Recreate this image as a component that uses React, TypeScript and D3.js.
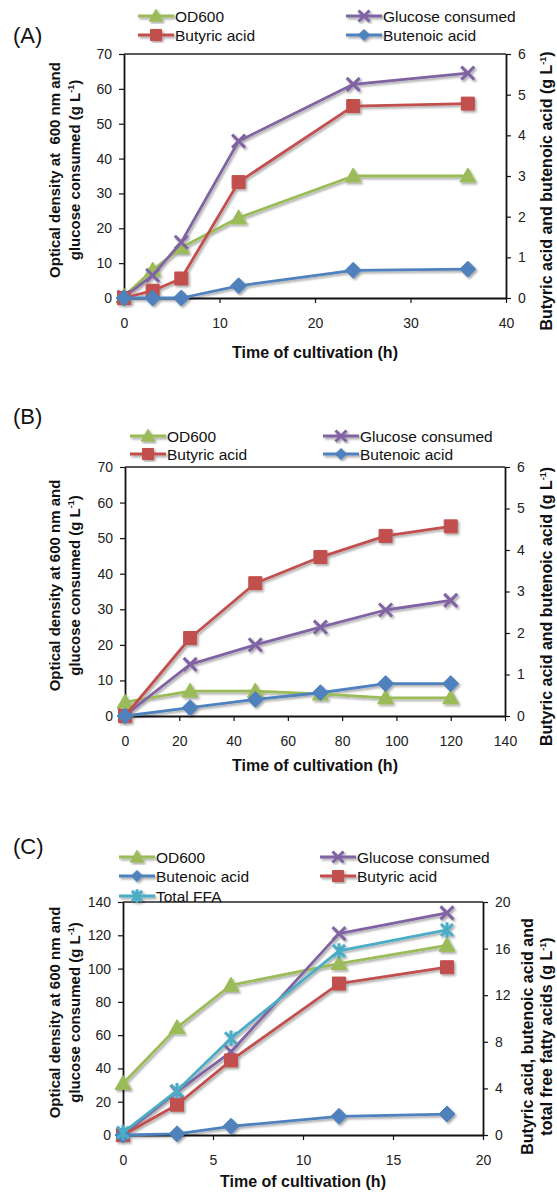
import { useEffect, useRef } from 'react';
import * as d3 from 'd3';

// ---- Panel A ----
const timeA = [0, 3, 6, 12, 24, 36];
const od600A = [0.5, 8, 14.5, 23, 35, 35];
const glucoseA = [0.3, 6.5, 16, 45, 61.3, 64.5];
const butyricA = [0, 0.18, 0.48, 2.85, 4.72, 4.78];
const butenoicA = [0, 0, 0, 0.3, 0.68, 0.71];
const xTicksA = [0, 10, 20, 30, 40];
const leftTicksA = [0, 10, 20, 30, 40, 50, 60, 70];
const rightTicksA = [0, 1, 2, 3, 4, 5, 6];

// ---- Panel B ----
const timeB = [0, 24, 48, 72, 96, 120];
const od600B = [3.9, 7, 7, 6.2, 5.1, 5.1];
const glucoseB = [0.2, 14.5, 20, 25, 29.8, 32.5];
const butyricB = [0, 1.88, 3.2, 3.83, 4.34, 4.57];
const butenoicB = [0, 0.2, 0.4, 0.56, 0.78, 0.78];
const xTicksB = [0, 20, 40, 60, 80, 100, 120, 140];
const leftTicksB = [0, 10, 20, 30, 40, 50, 60, 70];
const rightTicksB = [0, 1, 2, 3, 4, 5, 6];

// ---- Panel C ----
const timeC = [0, 3, 6, 12, 18];
const od600C = [31, 64.5, 90, 103, 114];
const glucoseC = [0, 26, 50, 121, 133.5];
const butenoicC = [0, 0.1, 0.75, 1.6, 1.8];
const butyricC = [0, 2.6, 6.4, 13, 14.4];
const totalFfaC = [0.2, 3.8, 8.3, 15.8, 17.6];
const xTicksC = [0, 5, 10, 15, 20];
const leftTicksC = [0, 20, 40, 60, 80, 100, 120, 140];
const rightTicksC = [0, 4, 8, 12, 16, 20];

const FONT = '"Liberation Sans", Arial, Helvetica, sans-serif';

const colors = {
  od: '#9BBB59',
  glucose: '#8064A2',
  butyric: '#C0504D',
  butenoic: '#4F81BD',
  ffa: '#4BACC6',
};

type Marker = 'triangle' | 'square' | 'diamond' | 'x' | 'star';

interface Series {
  name: string;
  values: number[];
  axis: 'left' | 'right';
  color: string;
  marker: Marker;
}

interface LegendEntry {
  name: string;
  color: string;
  marker: Marker;
  x: number;
  y: number;
}

interface Panel {
  tag: string;
  tagY: number;
  time: number[];
  xTicks: number[];
  leftTicks: number[];
  rightTicks: number[];
  box: { l: number; r: number; t: number; b: number };
  series: Series[];
  legend: LegendEntry[];
  leftTitle: string[];
  rightTitle: string[];
  rightTitleX: number;
  rightTitleShift: number;
  xTitleY: number;
}

const od = (values: number[]): Series => ({ name: 'OD600', values, axis: 'left', color: colors.od, marker: 'triangle' });
const glu = (values: number[]): Series => ({ name: 'Glucose consumed', values, axis: 'left', color: colors.glucose, marker: 'x' });
const buty = (values: number[]): Series => ({ name: 'Butyric acid', values, axis: 'right', color: colors.butyric, marker: 'square' });
const bute = (values: number[]): Series => ({ name: 'Butenoic acid', values, axis: 'right', color: colors.butenoic, marker: 'diamond' });
const ffa = (values: number[]): Series => ({ name: 'Total FFA', values, axis: 'right', color: colors.ffa, marker: 'star' });

const panels: Panel[] = [
  {
    tag: '(A)', tagY: 43, time: timeA,
    xTicks: xTicksA, leftTicks: leftTicksA, rightTicks: rightTicksA,
    box: { l: 124, r: 506, t: 54, b: 298 },
    series: [od(od600A), glu(glucoseA), buty(butyricA), bute(butenoicA)],
    legend: [
      { name: 'OD600', color: colors.od, marker: 'triangle', x: 138, y: 16 },
      { name: 'Glucose consumed', color: colors.glucose, marker: 'x', x: 346, y: 16 },
      { name: 'Butyric acid', color: colors.butyric, marker: 'square', x: 138, y: 35 },
      { name: 'Butenoic acid', color: colors.butenoic, marker: 'diamond', x: 346, y: 35 },
    ],
    leftTitle: ['Optical density at  600 nm and', 'glucose consumed (g L-1)'],
    rightTitle: ['Butyric acid and butenoic acid (g L-1)'],
    rightTitleX: 552, rightTitleShift: 15,
    xTitleY: 358,
  },
  {
    tag: '(B)', tagY: 424, time: timeB,
    xTicks: xTicksB, leftTicks: leftTicksB, rightTicks: rightTicksB,
    box: { l: 125, r: 505, t: 467, b: 716 },
    series: [od(od600B), glu(glucoseB), buty(butyricB), bute(butenoicB)],
    legend: [
      { name: 'OD600', color: colors.od, marker: 'triangle', x: 130, y: 436 },
      { name: 'Glucose consumed', color: colors.glucose, marker: 'x', x: 323, y: 436 },
      { name: 'Butyric acid', color: colors.butyric, marker: 'square', x: 130, y: 454 },
      { name: 'Butenoic acid', color: colors.butenoic, marker: 'diamond', x: 323, y: 454 },
    ],
    leftTitle: ['Optical density at 600 nm and', 'glucose consumed (g L-1)'],
    rightTitle: ['Butyric acid and butenoic acid (g L-1)'],
    rightTitleX: 552, rightTitleShift: 15,
    xTitleY: 771,
  },
  {
    tag: '(C)', tagY: 854, time: timeC,
    xTicks: xTicksC, leftTicks: leftTicksC, rightTicks: rightTicksC,
    box: { l: 123, r: 483, t: 902, b: 1135 },
    series: [od(od600C), glu(glucoseC), buty(butyricC), bute(butenoicC), ffa(totalFfaC)],
    legend: [
      { name: 'OD600', color: colors.od, marker: 'triangle', x: 119, y: 857 },
      { name: 'Glucose consumed', color: colors.glucose, marker: 'x', x: 320, y: 857 },
      { name: 'Butenoic acid', color: colors.butenoic, marker: 'diamond', x: 119, y: 876 },
      { name: 'Butyric acid', color: colors.butyric, marker: 'square', x: 320, y: 876 },
      { name: 'Total FFA', color: colors.ffa, marker: 'star', x: 119, y: 896 },
    ],
    leftTitle: ['Optical density at 600 nm and', 'glucose consumed (g L-1)'],
    rightTitle: ['Butyric acid, butenoic acid and', 'total free fatty acids (g L-1)'],
    rightTitleX: 533, rightTitleShift: 18,
    xTitleY: 1187,
  },
];

// marker outline, centred on 0,0
const markerPath = (kind: Marker, k = 1): string => {
  switch (kind) {
    case 'triangle': {
      const w = 8 * k, up = 8 * k, dn = 6 * k;
      return `M0,${-up}L${w},${dn}L${-w},${dn}Z`;
    }
    case 'square': {
      const h = 6.5 * k;
      return `M${-h},${-h}H${h}V${h}H${-h}Z`;
    }
    case 'diamond': {
      const h = 8 * k;
      return `M0,${-h}L${h},0L0,${h}L${-h},0Z`;
    }
    case 'x': {
      const h = 6.5 * k;
      return `M${-h},${-h}L${h},${h}M${h},${-h}L${-h},${h}`;
    }
    case 'star': {
      const h = 6 * k;
      return `M${-h},${-h}L${h},${h}M${h},${-h}L${-h},${h}M0,${-h * 1.3}V${h * 1.3}`;
    }
  }
};

const drawMarker = (g: d3.Selection<SVGGElement, unknown, null, undefined>, kind: Marker, color: string, x: number, y: number, k = 1) => {
  const stroked = kind === 'x' || kind === 'star';
  g.append('path')
    .attr('d', markerPath(kind, k))
    .attr('transform', `translate(${x},${y})`)
    .attr('fill', stroked ? 'none' : color)
    .attr('stroke', color)
    .attr('stroke-width', stroked ? 3 : 1)
    .attr('stroke-linejoin', 'round');
};

// text with a superscript "-1" in the unit
const writeUnit = (t: d3.Selection<SVGTextElement, unknown, null, undefined>, str: string) => {
  const i = str.indexOf('-1');
  if (i < 0) { t.text(str); return; }
  t.append('tspan').text(str.slice(0, i));
  t.append('tspan').attr('dy', -6).attr('font-size', 9).text('-1');
  t.append('tspan').attr('dy', 6).text(str.slice(i + 2));
};

const App = () => {
  const ref = useRef<SVGSVGElement>(null);

  useEffect(() => {
    if (!ref.current) return;
    const svg = d3.select(ref.current);
    svg.selectAll('*').remove();

    const defs = svg.append('defs');
    defs.append('filter')
      .attr('id', 'shadow')
      .attr('x', '-20%').attr('y', '-20%').attr('width', '140%').attr('height', '140%')
      .append('feDropShadow')
      .attr('dx', 1.6).attr('dy', 1.8).attr('stdDeviation', 1.2)
      .attr('flood-color', '#000').attr('flood-opacity', 0.35);

    const fmt = d3.format('d');

    panels.forEach(p => {
      const { l, r, t, b } = p.box;
      const x = d3.scaleLinear().domain([0, p.xTicks[p.xTicks.length - 1]]).range([l, r]);
      const yL = d3.scaleLinear().domain([0, p.leftTicks[p.leftTicks.length - 1]]).range([b, t]);
      const yR = d3.scaleLinear().domain([0, p.rightTicks[p.rightTicks.length - 1]]).range([b, t]);

      const root = svg.append('g').attr('font-family', FONT);

      // panel tag
      root.append('text')
        .attr('x', 13).attr('y', p.tagY)
        .attr('font-size', 22)
        .attr('fill', '#111')
        .text(p.tag);

      // top frame line
      root.append('line')
        .attr('x1', l).attr('x2', r).attr('y1', t).attr('y2', t)
        .attr('stroke', '#222').attr('stroke-width', 1.3);

      const styleAxis = (g: d3.Selection<SVGGElement, unknown, null, undefined>) => {
        g.attr('font-size', 14).attr('font-family', FONT);
        g.select('.domain').attr('stroke', '#111').attr('stroke-width', 1.8);
        g.selectAll('.tick line').attr('stroke', '#111').attr('stroke-width', 1.2);
        g.selectAll('.tick text').attr('fill', '#222');
      };

      root.append('g')
        .attr('transform', `translate(0,${b})`)
        .call(d3.axisBottom(x).tickValues(p.xTicks).tickFormat(fmt).tickSize(5).tickSizeOuter(0).tickPadding(15))
        .call(styleAxis);
      root.append('g')
        .attr('transform', `translate(${l},0)`)
        .call(d3.axisLeft(yL).tickValues(p.leftTicks).tickFormat(fmt).tickSize(5).tickSizeOuter(0).tickPadding(7))
        .call(styleAxis);
      root.append('g')
        .attr('transform', `translate(${r},0)`)
        .call(d3.axisRight(yR).tickValues(p.rightTicks).tickFormat(fmt).tickSize(5).tickSizeOuter(0).tickPadding(7))
        .call(styleAxis);

      // x title
      root.append('text')
        .attr('x', (l + r) / 2).attr('y', p.xTitleY)
        .attr('text-anchor', 'middle')
        .attr('font-size', 16).attr('font-weight', 'bold').attr('fill', '#111')
        .text('Time of cultivation (h)');

      // left title (two lines)
      const cy = (t + b) / 2 - 6;
      p.leftTitle.forEach((line, i) => {
        const tx = root.append('text')
          .attr('transform', `translate(${60 + i * 20},${cy}) rotate(-90)`)
          .attr('text-anchor', 'middle')
          .attr('font-size', 15).attr('font-weight', 'bold').attr('fill', '#111')
          .style('white-space', 'pre');
        writeUnit(tx, line);
      });

      // right title
      const rcy = (t + b) / 2 + p.rightTitleShift;
      p.rightTitle.forEach((line, i) => {
        const tx = root.append('text')
          .attr('transform', `translate(${p.rightTitleX + i * 19},${rcy}) rotate(-90)`)
          .attr('text-anchor', 'middle')
          .attr('font-size', 16).attr('font-weight', 'bold').attr('fill', '#111');
        writeUnit(tx, line);
      });

      // series
      const plot = root.append('g').attr('filter', 'url(#shadow)');
      p.series.forEach(s => {
        const y = s.axis === 'left' ? yL : yR;
        const pts: [number, number][] = p.time.map((tm, i) => [x(tm), y(s.values[i])]);
        const g = plot.append('g');
        g.append('path')
          .attr('d', d3.line()(pts))
          .attr('fill', 'none')
          .attr('stroke', s.color)
          .attr('stroke-width', 2.8)
          .attr('stroke-linejoin', 'round');
        pts.forEach(([px, py]) => drawMarker(g, s.marker, s.color, px, py));
      });

      // legend
      const lg = root.append('g');
      p.legend.forEach(e => {
        const g = lg.append('g').attr('filter', 'url(#shadow)');
        g.append('line')
          .attr('x1', e.x).attr('x2', e.x + 36).attr('y1', e.y).attr('y2', e.y)
          .attr('stroke', e.color).attr('stroke-width', 2.8);
        drawMarker(g, e.marker, e.color, e.x + 18, e.y, e.marker === 'diamond' ? 0.7 : 0.85);
        lg.append('text')
          .attr('x', e.x + 37).attr('y', e.y + 5.5)
          .attr('font-size', 15.5).attr('fill', '#111')
          .text(e.name);
      });
    });
  }, []);

  return (
    <div style={{ position: 'absolute', left: 0, top: 0 }}>
      <svg ref={ref} width={557} height={1192} style={{ display: 'block', background: '#fff' }} />
    </div>
  );
};

export default App;
